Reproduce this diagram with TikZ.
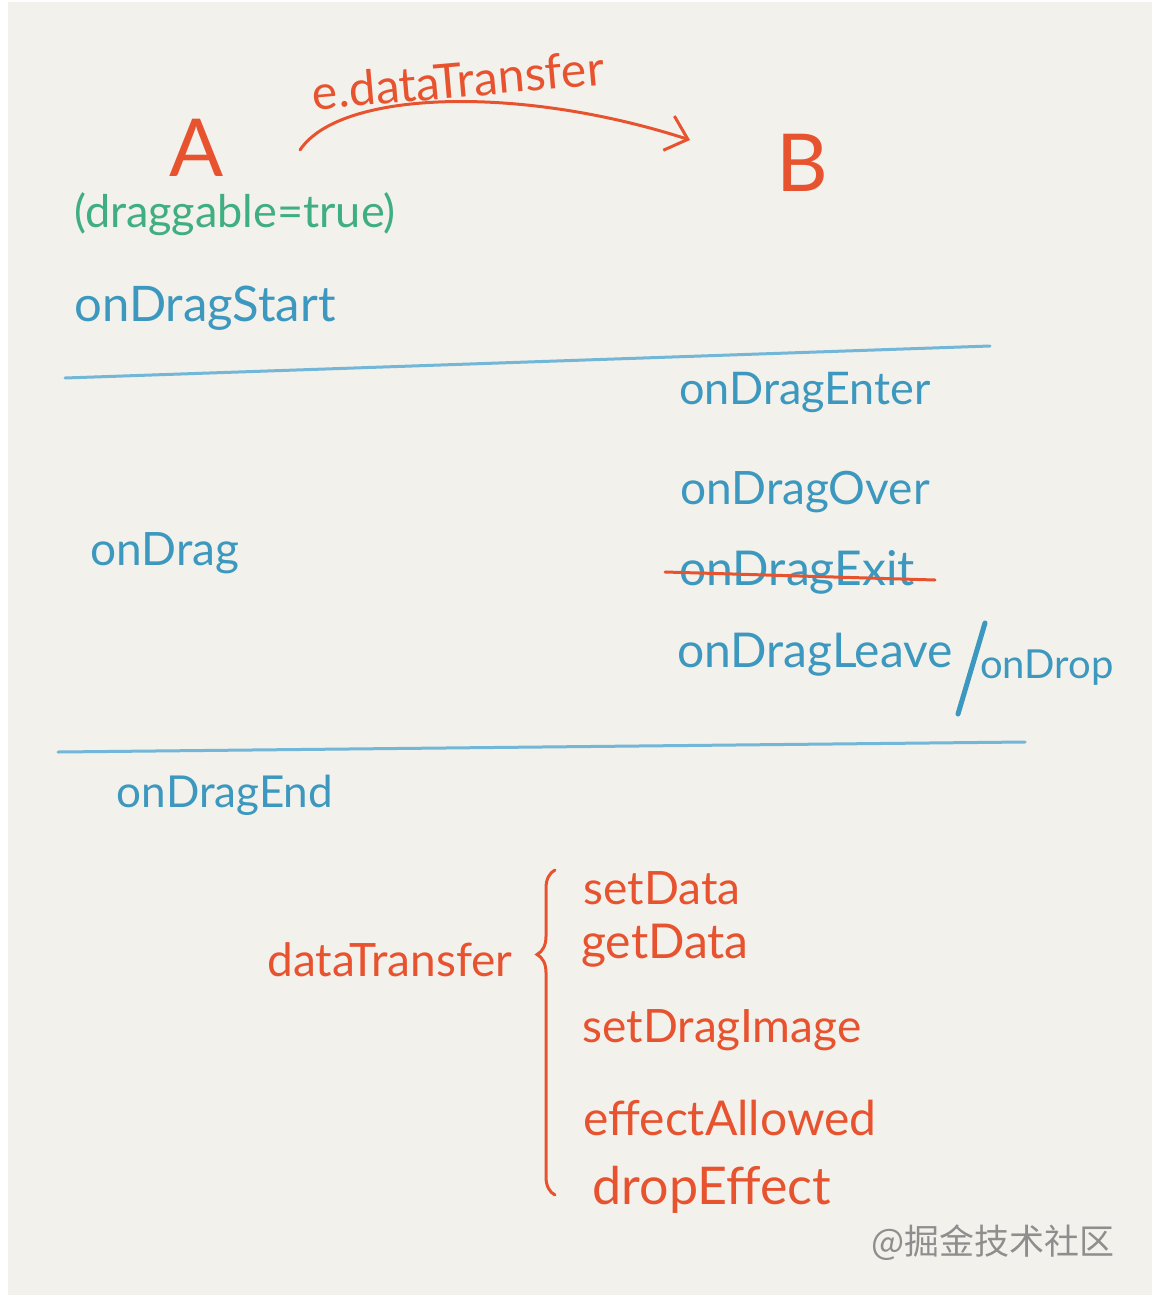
\documentclass[tikz,border=0pt]{standalone}
\usepackage{fontspec}
\setmainfont{Lato}
\newfontfamily\cjkfont{Noto Sans CJK SC}
\usepackage{tikz}
\usetikzlibrary{arrows.meta,calc,positioning,decorations.pathreplacing}
\definecolor{paper}{HTML}{F3F1EC}
\definecolor{penred}{HTML}{E8532F}
\definecolor{penblue}{HTML}{3C98BE}
\definecolor{pengreen}{HTML}{3FAE80}
\definecolor{penline}{HTML}{72B6D8}
\definecolor{markgray}{HTML}{8E8E8E}
\newcommand\pensize[1]{\fontsize{#1}{#1}\selectfont}
\tikzset{
    redtxt/.style={text=penred,inner sep=0pt,font=\pensize{23}},
    bluetxt/.style={text=penblue,inner sep=0pt,font=\pensize{23}},
    bigletter/.style={text=penred,inner sep=0pt,font=\pensize{40}},
    penstroke/.style={line width=1.5pt,line cap=round},
    every node/.style={anchor=center}
}

\begin{document}
\begin{tikzpicture}[x=0.5pt,y=-0.5pt]
  \useasboundingbox (0,0) rectangle (1162,1306);
  \fill[white] (0,0) rectangle (1162,1306);
  \fill[paper] (8,2) rectangle (1152,1295);

  % A -> B
  \node[bigletter] (A) at (197,148) {A};
  \node[bigletter] (B) at (802,163) {B};
  \node[redtxt,rotate=5,font=\pensize{24}] (trans) at (458,80) {e.dataTransfer};
  \coordinate (arrS) at (300,150);
  \coordinate (arrE) at (690,140);
  \draw[penred,penstroke,-{Straight Barb[length=10pt,width=18pt,line width=1.5pt]}]
    (arrS) .. controls (340,90) and (520,85) .. (arrE);
  \node[text=pengreen,inner sep=0pt,font=\pensize{22.5}] (drag) at (235,214) {(draggable=true)};
  \node[bluetxt,font=\pensize{24.5}] (start) at (205,308) {onDragStart};

  % phases
  \coordinate (l1a) at (65,378);
  \coordinate (l1b) at (990,346);
  \draw[penline,penstroke] (l1a) -- (l1b);
  \node[bluetxt,font=\pensize{22.5}] (enter) at (805,392) {onDragEnter};
  \node[bluetxt] (over) at (805,492) {onDragOver};
  \node[bluetxt,font=\pensize{24}] (exit) at (797,572) {onDragExit};
  \coordinate (stA) at (665,572);
  \coordinate (stB) at (935,580);
  \draw[penred,penstroke] (stA) -- (stB);
  \node[bluetxt,font=\pensize{24}] (leave) at (815,655) {onDragLeave};
  \coordinate (slA) at (985,623);
  \coordinate (slB) at (958,714);
  \draw[penblue,line width=2.5pt,line cap=round] (slA) -- (slB);
  \node[bluetxt,font=\pensize{20}] (drop) at (1047,668) {onDrop};
  \node[bluetxt] (ondrag) at (165,553) {onDrag};
  \coordinate (l2a) at (58,752);
  \coordinate (l2b) at (1025,742);
  \draw[penline,penstroke] (l2a) -- (l2b);
  \node[bluetxt,font=\pensize{22}] (end) at (225,795) {onDragEnd};

  % dataTransfer API
  \node[redtxt] (dt) at (390,960) {dataTransfer};
  \coordinate (brB) at (555,1195);
  \coordinate (brT) at (555,870);
  \draw[penred,penstroke,decorate,decoration={brace,amplitude=9pt,aspect=0.74}] (brB) -- (brT);
  \node[redtxt] (set) at (662,888) {setData};
  \node[redtxt,font=\pensize{24}] (get) at (665,946) {getData};
  \node[redtxt] (img) at (722,1030) {setDragImage};
  \node[redtxt,font=\pensize{24}] (allow) at (730,1118) {effectAllowed};
  \node[redtxt,font=\pensize{26}] (eff) at (712,1190) {dropEffect};

  \node[text=markgray,inner sep=0pt,font=\cjkfont\pensize{17.5}] (mark) at (993,1243) {@掘金技术社区};
\end{tikzpicture}
\end{document}
